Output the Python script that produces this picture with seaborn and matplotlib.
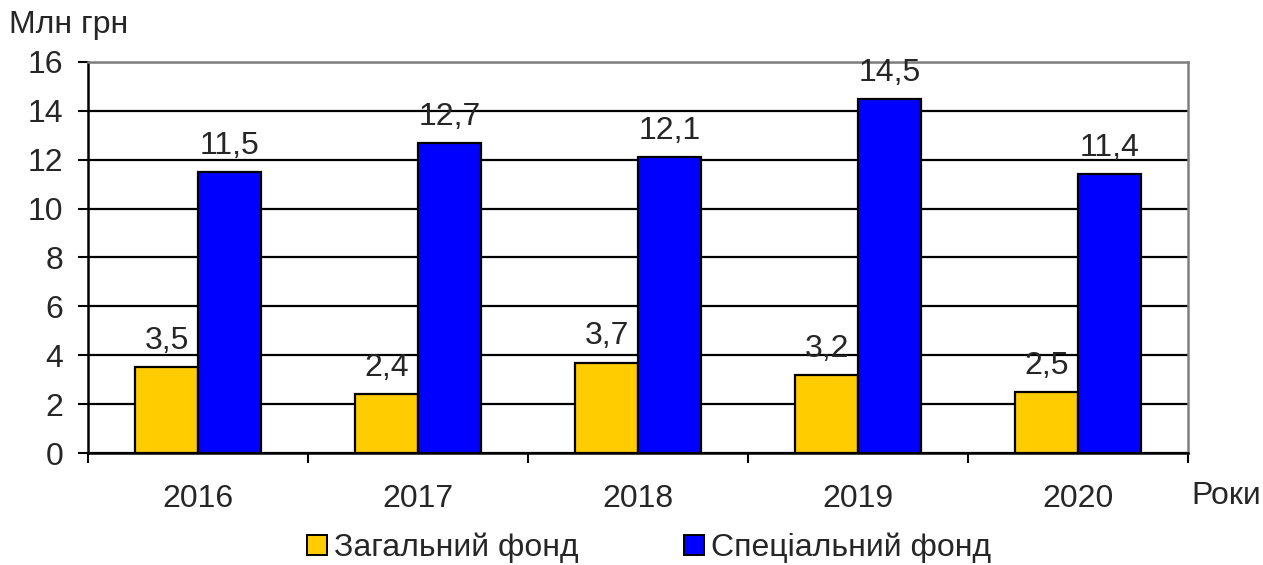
import pandas as pd
import seaborn as sns
import matplotlib.pyplot as plt
from matplotlib.patches import Patch

years = ['2016', '2017', '2018', '2019', '2020']
general_fund = [3.5, 2.4, 3.7, 3.2, 2.5]
special_fund = [11.5, 12.7, 12.1, 14.5, 11.4]
series_names = ['Загальний фонд', 'Спеціальний фонд']
colors = ['#FFCC00', '#0000FF']

df = pd.DataFrame({
    'year': years * 2,
    'value': general_fund + special_fund,
    'fund': [series_names[0]] * len(years) + [series_names[1]] * len(years),
})

sns.set_style('white')
plt.rcParams['font.family'] = ['Liberation Sans', 'DejaVu Sans']
fs = 23

fig = plt.figure(figsize=(12.63, 5.65), dpi=100)
ax = fig.add_axes([0.0697, 0.1982, 0.8709, 0.6921])

# gridlines behind bars
ax.set_axisbelow(True)
ax.yaxis.grid(True, color='black', linewidth=1.6)

sns.barplot(data=df, x='year', y='value', hue='fund', palette=colors, saturation=1,
            width=0.57, edgecolor='black', linewidth=1.6, ax=ax, legend=False)

for cont in ax.containers:
    ax.bar_label(cont, labels=[f'{v:.1f}'.replace('.', ',') for v in cont.datavalues],
                 padding=8, fontsize=fs)

ax.set_ylim(0, 16)
ax.set_yticks(range(0, 17, 2))
ax.set_xlim(-0.5, len(years) - 0.5)
ax.set_xlabel('')
ax.set_ylabel('')

ax.tick_params(axis='y', which='major', length=7, width=1.5, color='black',
               direction='out', pad=11, labelsize=fs, left=True)
ax.tick_params(axis='x', which='major', length=0, pad=22, labelsize=fs)
ax.set_xticks([i - 0.5 for i in range(len(years) + 1)], minor=True)
ax.tick_params(axis='x', which='minor', length=7, width=1.5, color='black',
               direction='out', bottom=True)

for side in ['left', 'bottom']:
    ax.spines[side].set_color('black')
    ax.spines[side].set_linewidth(1.8)
for side in ['top', 'right']:
    ax.spines[side].set_visible(True)
    ax.spines[side].set_color('#808080')
    ax.spines[side].set_linewidth(1.8)

fig.text(0.007, 0.955, 'Млн грн', fontsize=fs, ha='left', va='center')
fig.text(0.943, 0.123, 'Роки', fontsize=fs, ha='left', va='center')

handles = [Patch(facecolor=c, edgecolor='black', linewidth=1.4) for c in colors]
fig.legend(handles, series_names, loc='center', bbox_to_anchor=(0.514, 0.03),
           ncol=2, frameon=False, fontsize=fs, handlelength=0.62, handleheight=0.62,
           handletextpad=0.22, columnspacing=3.3, borderpad=0)

fig.savefig('out.png', dpi=100)
